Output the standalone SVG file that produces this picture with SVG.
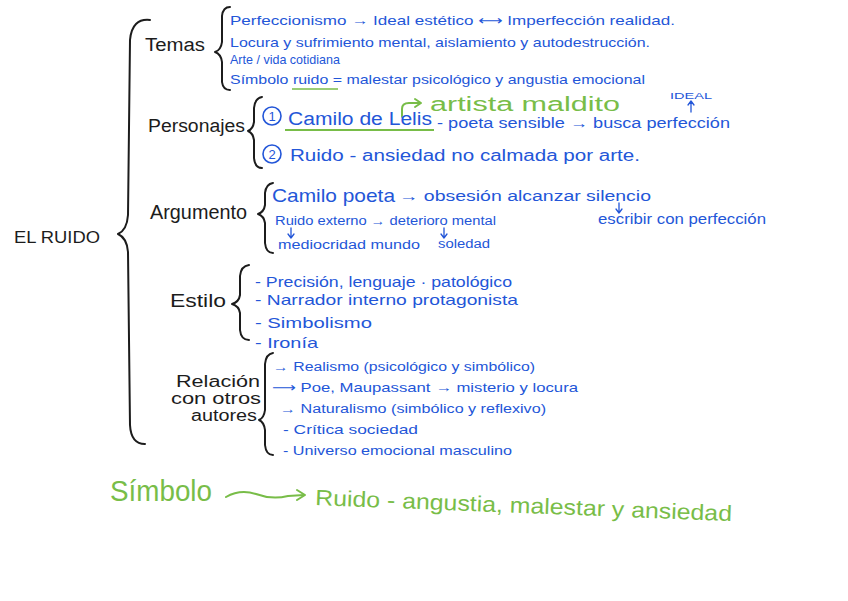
<svg xmlns="http://www.w3.org/2000/svg" width="848" height="601" viewBox="0 0 848 601">
<defs>
<style>
text{font-family:"Liberation Sans","DejaVu Sans",sans-serif}
.k{fill:#1c1c1c}
.b{fill:#2356d8}
.g{fill:#78bd48}
.br{fill:none;stroke:#1c1c1c;stroke-width:2;stroke-linecap:round;stroke-linejoin:round}
.ab{fill:none;stroke:#2356d8;stroke-width:1.3;stroke-linecap:round;stroke-linejoin:round}
.ag{fill:none;stroke:#78bd48;stroke-width:2;stroke-linecap:round;stroke-linejoin:round}
.cb{fill:none;stroke:#2356d8;stroke-width:1.6}
</style>
</defs>
<rect width="848" height="601" fill="#ffffff"/>

<g id="connectors">
<path class="br" d="M150,20 Q132,18 130,40 L128,215 Q127,230 118,234 Q127,238 128,252 L130,425 Q131,444 145,444"/>
<path class="br" d="M230,7 Q223,7 222,16 L222,42 Q221,50 215,52 Q221,54 222,62 L222,82 Q223,90 230,90"/>
<path class="br" d="M262,97 Q255,98 254,108 L254,122 Q253,129 248,131 Q253,133 254,140 L254,158 Q255,168 262,168"/>
<path class="br" d="M273,183 Q266,184 265,193 L265,205 Q264,212 258,214 Q264,216 265,223 L265,243 Q266,253 273,253"/>
<path class="br" d="M249,265 Q241,266 240,276 L240,295 Q239,302 232,304 Q239,306 240,313 L240,330 Q241,340 249,340"/>
<path class="br" d="M273,353 Q266,354 265,364 L265,410 Q264,418 259,420 Q264,422 265,430 L265,445 Q266,455 273,455"/>
<path class="ag" d="M402,117 L402,109 Q402,103 409,103 L420,103"/>
<path class="ag" d="M415,99 L421,103 L415,107"/>
<path class="ab" d="M691,112 L691,102 M688,105 L691,101 L694,105"/>
<path class="ab" d="M619,203 L619,212 M616,209 L619,213 L622,209"/>
<path class="ab" d="M291,228 L291,237 M288,234 L291,238 L294,234"/>
<path class="ab" d="M444,228 L444,237 M441,234 L444,238 L447,234"/>
<path class="ag" d="M226,497 Q240,489 256,494 Q272,500 288,496 L304,495"/>
<path class="ag" d="M297,490 L305,495 L297,500"/>
</g>

<g id="root">
<text class="k" x="14" y="243" font-size="16" textLength="86" lengthAdjust="spacingAndGlyphs">EL RUIDO</text>
</g>

<g id="temas">
<text class="k" x="145" y="51" font-size="18" textLength="60" lengthAdjust="spacingAndGlyphs">Temas</text>
<text class="b" x="230" y="25" font-size="13" textLength="445" lengthAdjust="spacingAndGlyphs">Perfeccionismo → Ideal estético ⟷ Imperfección realidad.</text>
<text class="b" x="230" y="47" font-size="13" textLength="420" lengthAdjust="spacingAndGlyphs">Locura y sufrimiento mental, aislamiento y autodestrucción.</text>
<text class="b" x="230" y="64" font-size="13" textLength="110" lengthAdjust="spacingAndGlyphs">Arte / vida cotidiana</text>
<text class="b" x="230" y="84" font-size="13" textLength="415" lengthAdjust="spacingAndGlyphs">Símbolo ruido = malestar psicológico y angustia emocional</text>
<path d="M292,89 L338,89" stroke="#78bd48" stroke-width="1.6" fill="none"/>
</g>

<g id="personajes">
<text class="k" x="148" y="132" font-size="18" textLength="97" lengthAdjust="spacingAndGlyphs">Personajes</text>
<circle class="cb" cx="272" cy="116" r="9"/>
<text class="b" x="272" y="121" font-size="13" text-anchor="middle">1</text>
<text class="b" x="288" y="125" font-size="18" textLength="144" lengthAdjust="spacingAndGlyphs">Camilo de Lelis</text>
<path d="M285,130 L434,130" stroke="#78bd48" stroke-width="2" fill="none"/>
<text class="b" x="437" y="128" font-size="14" textLength="293" lengthAdjust="spacingAndGlyphs">- poeta sensible → busca perfección</text>
<text class="g" x="430" y="111" font-size="20" textLength="190" lengthAdjust="spacingAndGlyphs">artista maldito</text>
<text class="b" x="670" y="99" font-size="9" textLength="42" lengthAdjust="spacingAndGlyphs">IDEAL</text>
<circle class="cb" cx="272" cy="154" r="9"/>
<text class="b" x="272" y="159" font-size="13" text-anchor="middle">2</text>
<text class="b" x="290" y="161" font-size="16" textLength="350" lengthAdjust="spacingAndGlyphs">Ruido - ansiedad no calmada por arte.</text>
</g>

<g id="argumento">
<text class="k" x="150" y="219" font-size="21" textLength="97" lengthAdjust="spacingAndGlyphs">Argumento</text>
<text class="b" x="272" y="202" font-size="19" textLength="123" lengthAdjust="spacingAndGlyphs">Camilo poeta</text>
<text class="b" x="399" y="201" font-size="14" textLength="252" lengthAdjust="spacingAndGlyphs">→ obsesión alcanzar silencio</text>
<text class="b" x="598" y="224" font-size="14" textLength="168" lengthAdjust="spacingAndGlyphs">escribir con perfección</text>
<text class="b" x="275" y="225" font-size="12" textLength="221" lengthAdjust="spacingAndGlyphs">Ruido externo → deterioro mental</text>
<text class="b" x="278" y="249" font-size="12" textLength="142" lengthAdjust="spacingAndGlyphs">mediocridad mundo</text>
<text class="b" x="438" y="248" font-size="12" textLength="52" lengthAdjust="spacingAndGlyphs">soledad</text>
</g>

<g id="estilo">
<text class="k" x="170" y="307" font-size="18" textLength="56" lengthAdjust="spacingAndGlyphs">Estilo</text>
<text class="b" x="255" y="287" font-size="15" textLength="257" lengthAdjust="spacingAndGlyphs">- Precisión, lenguaje · patológico</text>
<text class="b" x="255" y="305" font-size="15" textLength="263" lengthAdjust="spacingAndGlyphs">- Narrador interno protagonista</text>
<text class="b" x="255" y="328" font-size="15" textLength="117" lengthAdjust="spacingAndGlyphs">- Simbolismo</text>
<text class="b" x="255" y="348" font-size="15" textLength="63" lengthAdjust="spacingAndGlyphs">- Ironía</text>
</g>

<g id="relacion">
<text class="k" x="218" y="387" font-size="16" text-anchor="middle" textLength="84" lengthAdjust="spacingAndGlyphs">Relación</text>
<text class="k" x="216" y="404" font-size="16" text-anchor="middle" textLength="90" lengthAdjust="spacingAndGlyphs">con otros</text>
<text class="k" x="224" y="421" font-size="16" text-anchor="middle" textLength="66" lengthAdjust="spacingAndGlyphs">autores</text>
<text class="b" x="273" y="371" font-size="12" textLength="262" lengthAdjust="spacingAndGlyphs">→ Realismo (psicológico y simbólico)</text>
<text class="b" x="272" y="392" font-size="13" textLength="306" lengthAdjust="spacingAndGlyphs">⟶ Poe, Maupassant → misterio y locura</text>
<text class="b" x="280" y="413" font-size="12" textLength="266" lengthAdjust="spacingAndGlyphs">→ Naturalismo (simbólico y reflexivo)</text>
<text class="b" x="283" y="434" font-size="13" textLength="135" lengthAdjust="spacingAndGlyphs">- Crítica sociedad</text>
<text class="b" x="283" y="455" font-size="13" textLength="229" lengthAdjust="spacingAndGlyphs">- Universo emocional masculino</text>
</g>

<g id="simbolo">
<text class="g" x="110" y="501" font-size="30" textLength="102" lengthAdjust="spacingAndGlyphs">Símbolo</text>
<text class="g" x="315" y="505" font-size="22" textLength="417" lengthAdjust="spacingAndGlyphs" transform="rotate(2.2 315 505)">Ruido - angustia, malestar y ansiedad</text>
</g>
</svg>
